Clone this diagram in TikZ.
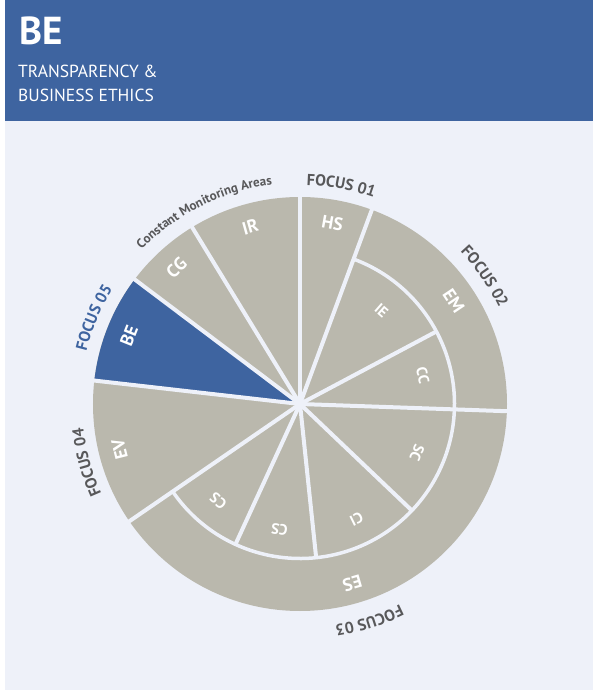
\documentclass[tikz,border=0pt]{standalone}
\usepackage{fontspec}
\setmainfont{PT Sans}
\usetikzlibrary{decorations.text}
\definecolor{hdrblue}{HTML}{3E64A0}
\definecolor{panelbg}{HTML}{EEF1F9}
\definecolor{wedgegray}{HTML}{BAB8AD}
\definecolor{labgray}{HTML}{58585A}
\begin{document}
\begin{tikzpicture}[x=1pt,y=1pt,
  sep/.style={draw=panelbg, line width=4pt},
  ringsep/.style={draw=panelbg, line width=3.5pt},
  biglab/.style={text=white, font=\bfseries\fontsize{18}{18}\selectfont, inner sep=0pt},
  smalllab/.style={text=white, font=\bfseries\fontsize{15}{15}\selectfont, inner sep=0pt},
  hdrtext/.style={anchor=base west, inner sep=0pt, text=white, font=\fontsize{17.5}{17.5}\selectfont},
  arclab/.style={decorate, decoration={text along path, text align=center, text={#1}}}
  ]
\useasboundingbox (-300,-288) rectangle (293,404);
\fill[white] (-300,-288) rectangle (293,404);
\fill[hdrblue] (-295,283) rectangle (293,404);
\fill[panelbg] (-295,-286) rectangle (293,283);

% header
\node[anchor=base west, inner sep=0pt, text=white, font=\bfseries\fontsize{39}{39}\selectfont] (title) at (-281,359) {BE};
\node[hdrtext] (sub1) at (-282,326) {TRANSPARENCY \&};
\node[hdrtext] (sub2) at (-282,302.5) {BUSINESS ETHICS};

% wheel
\fill[wedgegray] (0,0) circle (207);
\fill[hdrblue] (0,0) -- (143:207) arc[start angle=143, end angle=173.5, radius=207] -- cycle;
\draw[ringsep] (-2:154.5) arc[start angle=-2, end angle=69.7, radius=154.5];
\draw[ringsep] (214.5:154.5) arc[start angle=214.5, end angle=358, radius=154.5];
\foreach \a in {90,121.4,143,173.5,214.5,-2,69.7} \draw[sep] (0,0) -- (\a:212);
\foreach \a in {28,-43.6,-84,-114.7} \draw[sep] (0,0) -- (\a:154.5);

% labels in the wheel
\node[biglab, rotate=-10.15] (hs) at (79.85:184) {HS};
\node[biglab, rotate=15.7] (ir) at (105.7:184) {IR};
\node[biglab, rotate=42.2] (cg) at (132.2:184) {CG};
\node[biglab, rotate=68.25] (be) at (158.25:184) {BE};
\node[biglab, rotate=104] (ev) at (194:186) {EV};
\node[biglab, rotate=-56.15] (em) at (33.85:185) {EM};
\node[biglab, rotate=-163.75] (es) at (-73.75:187) {ES};
\node[smalllab, rotate=-41.1] (ie) at (48.9:124) {IE};
\node[smalllab, rotate=-77] (cc) at (13:126) {CC};
\node[smalllab, rotate=-112.8] (sc) at (-22.8:127) {SC};
\node[smalllab, rotate=-153.8] (ci) at (-63.8:128) {CI};
\node[smalllab, rotate=-189.3] (cs1) at (-99.3:127) {CS};
\node[smalllab, rotate=139.9] (cs2) at (229.9:127) {CS};

% outer curved labels
\path[arclab={|\color{labgray}\bfseries\fontsize{16}{16}\selectfont|FOCUS 01}] (99.3:219) arc[start angle=99.3, end angle=59.3, radius=219];
\path[arclab={|\color{labgray}\bfseries\fontsize{16}{16}\selectfont|FOCUS 02}] (54.6:221) arc[start angle=54.6, end angle=14.6, radius=221];
\path[arclab={|\color{labgray}\bfseries\fontsize{16}{16}\selectfont|FOCUS 03}] (-52.3:224) arc[start angle=-52.3, end angle=-92.3, radius=224];
\path[arclab={|\color{labgray}\bfseries\fontsize{16}{16}\selectfont|FOCUS 04}] (215.3:218) arc[start angle=215.3, end angle=175.3, radius=218];
\path[arclab={|\color{hdrblue}\bfseries\fontsize{16}{16}\selectfont|FOCUS 05}] (177.3:220) arc[start angle=177.3, end angle=137.3, radius=220];
\path[arclab={|\color{labgray}\bfseries\fontsize{13}{13}\selectfont|Constant Monitoring Areas}] (144.5:221) arc[start angle=144.5, end angle=88.5, radius=221];
\end{tikzpicture}
\end{document}
